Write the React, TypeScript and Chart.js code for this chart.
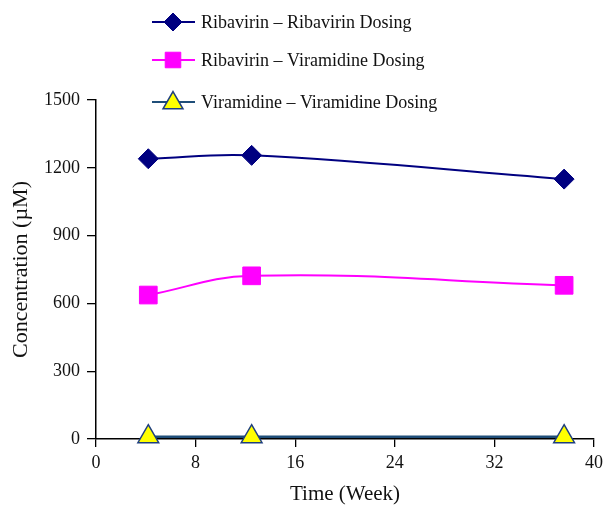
import React, { useEffect, useRef } from "react";
import { Chart, registerables } from "chart.js";

Chart.register(...registerables);

const weeks = [4.2, 12.5, 37.6];
const ribaRibaDosing = [1240, 1255, 1150];
const ribaViraDosing = [637, 722, 680];
const viraViraDosing = [10, 10, 10];
const seriesLabels = [
  "Ribavirin – Ribavirin Dosing",
  "Ribavirin – Viramidine Dosing",
  "Viramidine – Viramidine Dosing",
];
const xTicks = [0, 8, 16, 24, 32, 40];
const yTicks = [0, 300, 600, 900, 1200, 1500];

const FONT = "'Liberation Serif', 'Times New Roman', serif";

function markerPath(ctx: CanvasRenderingContext2D, style: string, r: number, x: number, y: number) {
  ctx.beginPath();
  if (style === "rectRot") {
    ctx.moveTo(x, y - r);
    ctx.lineTo(x + r, y);
    ctx.lineTo(x, y + r);
    ctx.lineTo(x - r, y);
  } else if (style === "rect") {
    const s = Math.SQRT1_2 * r;
    ctx.rect(x - s, y - s, 2 * s, 2 * s);
  } else {
    for (let k = 0; k < 3; k++) {
      const a = (k * 2 * Math.PI) / 3;
      const px = x + Math.sin(a) * r;
      const py = y - Math.cos(a) * r;
      if (k === 0) ctx.moveTo(px, py);
      else ctx.lineTo(px, py);
    }
  }
  ctx.closePath();
}

const legendPlugin = {
  id: "customLegend",
  afterDraw(chart: any) {
    const ctx = chart.ctx;
    const rows = [14, 52, 94];
    ctx.save();
    chart.data.datasets.forEach((ds: any, i: number) => {
      const y = rows[i];
      ctx.strokeStyle = ds.borderColor;
      ctx.lineWidth = 2;
      ctx.beginPath();
      ctx.moveTo(144, y);
      ctx.lineTo(187, y);
      ctx.stroke();
      const r = i === 2 ? 11.5 : i === 1 ? 11 : 9;
      markerPath(ctx, ds.pointStyle, r, 165, i === 2 ? y + 1 : y);
      ctx.fillStyle = ds.pointBackgroundColor;
      ctx.fill();
      ctx.strokeStyle = ds.pointBorderColor;
      ctx.lineWidth = ds.pointBorderWidth;
      ctx.stroke();
      ctx.fillStyle = "#111";
      ctx.font = `18px ${FONT}`;
      ctx.textBaseline = "middle";
      ctx.textAlign = "left";
      ctx.fillText(ds.label, 193, y + 1);
    });
    ctx.restore();
  },
};

export default function App() {
  const ref = useRef<HTMLCanvasElement>(null);
  useEffect(() => {
    if (!ref.current) return;
    document.documentElement.style.overflow = "hidden";
    document.body.style.overflow = "hidden";
    const mk = (ys: number[]) => ys.map((y, i) => ({ x: weeks[i], y }));
    const chart = new Chart(ref.current, {
      type: "line",
      data: {
        datasets: [
          {
            label: seriesLabels[0],
            data: mk(ribaRibaDosing),
            borderColor: "#000080",
            borderWidth: 2,
            pointStyle: "rectRot",
            pointRadius: 10,
            pointBackgroundColor: "#000080",
            pointBorderColor: "#000080",
            pointBorderWidth: 1,
            tension: 0.4,
            clip: false,
          },
          {
            label: seriesLabels[1],
            data: mk(ribaViraDosing),
            borderColor: "#FF00FF",
            borderWidth: 2,
            pointStyle: "rect",
            pointRadius: 12.5,
            pointBackgroundColor: "#FF00FF",
            pointBorderColor: "#FF00FF",
            pointBorderWidth: 1,
            tension: 0.4,
            clip: false,
          },
          {
            label: seriesLabels[2],
            data: mk(viraViraDosing),
            borderColor: "#1F4E79",
            borderWidth: 2.5,
            pointStyle: "triangle",
            pointRadius: 12,
            pointBackgroundColor: "#FFFF00",
            pointBorderColor: "#1F3F7F",
            pointBorderWidth: 1.5,
            tension: 0.4,
            clip: false,
          },
        ] as any,
      },
      plugins: [legendPlugin],
      options: {
        animation: false,
        responsive: false,
        maintainAspectRatio: false,
        layout: { padding: { top: 92, right: 11, left: 0, bottom: 0 } },
        plugins: { legend: { display: false }, tooltip: { enabled: false } },
        scales: {
          x: {
            type: "linear",
            min: 0,
            max: 40,
            afterBuildTicks: (s: any) => {
              s.ticks = xTicks.map((v) => ({ value: v }));
            },
            afterFit: (s: any) => {
              s.height = 68;
            },
            grid: { drawOnChartArea: false, drawTicks: true, tickLength: 8, color: "#000", lineWidth: 1.3 },
            border: { display: true, color: "#000", width: 1.5 },
            ticks: {
              color: "#111",
              font: { family: FONT, size: 18 },
              padding: 5,
              maxRotation: 0,
              callback: (v: any) => String(v),
            },
            title: {
              display: true,
              text: "Time (Week)",
              color: "#111",
              font: { family: FONT, size: 21 },
              padding: 0,
            },
          },
          y: {
            min: 0,
            max: 1500,
            afterBuildTicks: (s: any) => {
              s.ticks = yTicks.map((v) => ({ value: v }));
            },
            afterFit: (s: any) => {
              s.width = 88;
            },
            grid: { drawOnChartArea: false, drawTicks: true, tickLength: 9, color: "#000", lineWidth: 1.3 },
            border: { display: true, color: "#000", width: 1.5 },
            ticks: {
              color: "#111",
              font: { family: FONT, size: 18 },
              padding: 7,
              callback: (v: any) => String(v),
            },
            title: {
              display: true,
              text: "Concentration (µM)",
              color: "#111",
              font: { family: FONT, size: 22 },
              padding: 0,
            },
          },
        },
      },
    });
    return () => chart.destroy();
  }, []);
  return (
    <div style={{ width: 600, height: 499 }}>
      <canvas ref={ref} width={600} height={499} style={{ display: "block" }} />
    </div>
  );
}
